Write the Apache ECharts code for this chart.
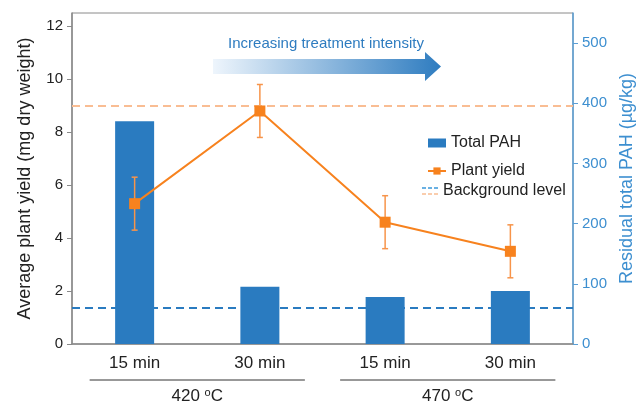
<!DOCTYPE html>
<html>
<head>
<meta charset="utf-8">
<script src="https://cdn.jsdelivr.net/npm/echarts@6/dist/echarts.min.js"></script>
<style>
html, body { margin: 0; padding: 0; background: #fff; }
#chart { width: 636px; height: 405px; }
</style>
</head>
<body>
<div id="chart"></div>
<script>
// data
const categories = ['15 min', '30 min', '15 min', '30 min'];
const groupNames = ['420', '470'];
const groupMembers = [[0, 1], [2, 3]];
const totalPAH = [370, 95, 78, 88];          // right axis, µg/kg
const plantYield = [5.3, 8.8, 4.6, 3.5];     // left axis, mg dry weight
const yieldErr = [1.0, 1.0, 1.0, 1.0];
const yieldBackground = 9.0;
const pahBackground = 60;
const leftTicks = { min: 0, max: 12.5, interval: 2 };
const rightTicks = { min: 0, max: 550, interval: 100 };

const FONT = 'Liberation Sans, Arial, sans-serif';
const BLUE = '#2A7BC0';
const ORANGE = '#F7821E';
const AXISBLUE = '#5A9FD6';

const chart = echarts.init(document.getElementById('chart'));

chart.setOption({
  animation: false,
  textStyle: { fontFamily: FONT },
  grid: {
    left: 72, right: 63, top: 13, bottom: 61,
    outerBoundsMode: 'none', containLabel: false,
    show: true, borderColor: '#8a8a8a', borderWidth: 1
  },
  legend: {
    data: [{ name: 'Total PAH', icon: 'rect' }, { name: 'Plant yield' }],
    orient: 'vertical',
    left: 422,
    top: 130,
    itemWidth: 18,
    itemHeight: 9,
    itemGap: 12,
    textStyle: { fontSize: 16, color: '#222', fontFamily: FONT }
  },
  xAxis: {
    type: 'category',
    data: categories,
    axisLine: { lineStyle: { color: '#8a8a8a', width: 1.5 } },
    axisTick: { show: false },
    axisLabel: { fontSize: 17, color: '#222', margin: 11, fontFamily: FONT },
    splitLine: { show: false }
  },
  yAxis: [
    {
      type: 'value',
      min: leftTicks.min, max: leftTicks.max, interval: leftTicks.interval,
      name: 'Average plant yield (mg dry weight)',
      nameLocation: 'middle',
      nameGap: 38,
      nameTextStyle: { fontSize: 18, color: '#222', fontFamily: FONT },
      axisLine: { show: true, lineStyle: { color: '#8a8a8a', width: 1.5 } },
      axisTick: { show: true, length: 5, lineStyle: { color: '#8a8a8a' } },
      axisLabel: { fontSize: 15, color: '#222', margin: 9, showMaxLabel: false },
      splitLine: { show: false }
    },
    {
      type: 'value',
      min: rightTicks.min, max: rightTicks.max, interval: rightTicks.interval,
      position: 'right',
      name: 'Residual total PAH (µg/kg)',
      nameLocation: 'middle',
      nameRotate: 90,
      nameGap: 44,
      nameTextStyle: { fontSize: 18, color: '#3d8fd0', fontFamily: FONT },
      axisLine: { show: true, lineStyle: { color: AXISBLUE, width: 1.5 } },
      axisTick: { show: true, length: 5, lineStyle: { color: AXISBLUE } },
      axisLabel: { fontSize: 15, color: '#3d8fd0', margin: 9, showMaxLabel: false },
      splitLine: { show: false }
    }
  ],
  series: [
    {
      name: 'Total PAH',
      type: 'bar',
      yAxisIndex: 1,
      barWidth: 39,
      data: totalPAH,
      itemStyle: { color: BLUE },
      z: 2,
      markLine: {
        silent: true,
        symbol: 'none',
        label: { show: false },
        lineStyle: { color: BLUE, type: [8, 5], width: 2 },
        data: [{ yAxis: pahBackground }]
      }
    },
    {
      name: 'Plant yield',
      type: 'line',
      yAxisIndex: 0,
      data: plantYield,
      symbol: 'rect',
      symbolSize: 11,
      itemStyle: { color: ORANGE },
      lineStyle: { color: ORANGE, width: 2 },
      z: 5,
      markLine: {
        silent: true,
        symbol: 'none',
        label: { show: false },
        lineStyle: { color: '#F9BD93', type: [8, 5], width: 2 },
        data: [{ yAxis: yieldBackground }]
      }
    },
    {
      name: 'error',
      type: 'custom',
      yAxisIndex: 0,
      z: 4,
      data: plantYield.map((v, i) => [i, v - yieldErr[i], v + yieldErr[i]]),
      renderItem: function (params, api) {
        const lo = api.coord([api.value(0), api.value(1)]);
        const hi = api.coord([api.value(0), api.value(2)]);
        const c = 3;
        const st = { stroke: '#F7944A', lineWidth: 1.5 };
        return {
          type: 'group',
          children: [
            { type: 'line', shape: { x1: hi[0], y1: hi[1], x2: lo[0], y2: lo[1] }, style: st },
            { type: 'line', shape: { x1: hi[0] - c, y1: hi[1], x2: hi[0] + c, y2: hi[1] }, style: st },
            { type: 'line', shape: { x1: lo[0] - c, y1: lo[1], x2: lo[0] + c, y2: lo[1] }, style: st }
          ]
        };
      }
    }
  ]
});

// annotations: arrow, background legend entry, temperature groups
const graphics = [
  {
    type: 'polygon',
    shape: { points: [[213, 59], [425, 59], [425, 52], [441, 66.5], [425, 81], [425, 74], [213, 74]] },
    style: {
      fill: new echarts.graphic.LinearGradient(0, 0, 1, 0, [
        { offset: 0, color: '#EEF5FC' },
        { offset: 1, color: '#2E7CC0' }
      ])
    }
  },
  {
    type: 'text', x: 326, y: 44,
    style: { text: 'Increasing treatment intensity', fill: '#2E7CC0', font: '15px ' + FONT, align: 'center', verticalAlign: 'middle' }
  },
  { type: 'line', shape: { x1: 422, y1: 188, x2: 440, y2: 188 }, style: { stroke: '#3a98da', lineWidth: 1.5, lineDash: [4, 2] } },
  { type: 'line', shape: { x1: 422, y1: 194, x2: 440, y2: 194 }, style: { stroke: '#F9BD93', lineWidth: 1.5, lineDash: [4, 2] } },
  {
    type: 'text', x: 443, y: 191,
    style: { text: 'Background level', font: '16px ' + FONT, fill: '#222', verticalAlign: 'middle' }
  }
];

groupMembers.forEach((idx, g) => {
  const x0 = chart.convertToPixel({ xAxisIndex: 0 }, idx[0]);
  const x1 = chart.convertToPixel({ xAxisIndex: 0 }, idx[idx.length - 1]);
  const cx = (x0 + x1) / 2;
  const half = (x1 - x0) / 2 + 45;
  graphics.push({
    type: 'line',
    shape: { x1: cx - half, y1: 380, x2: cx + half, y2: 380 },
    style: { stroke: '#333', lineWidth: 1 }
  });
  graphics.push({
    type: 'text', x: cx, y: 396,
    style: {
      text: groupNames[g] + ' {s|o}C',
      font: '17px ' + FONT,
      fill: '#222',
      align: 'center',
      verticalAlign: 'middle',
      rich: { s: { fontSize: 11, fontFamily: FONT, verticalAlign: 'top', padding: [0, 0, 6, 0] } }
    }
  });
});

chart.setOption({ graphic: graphics });
</script>
</body>
</html>
